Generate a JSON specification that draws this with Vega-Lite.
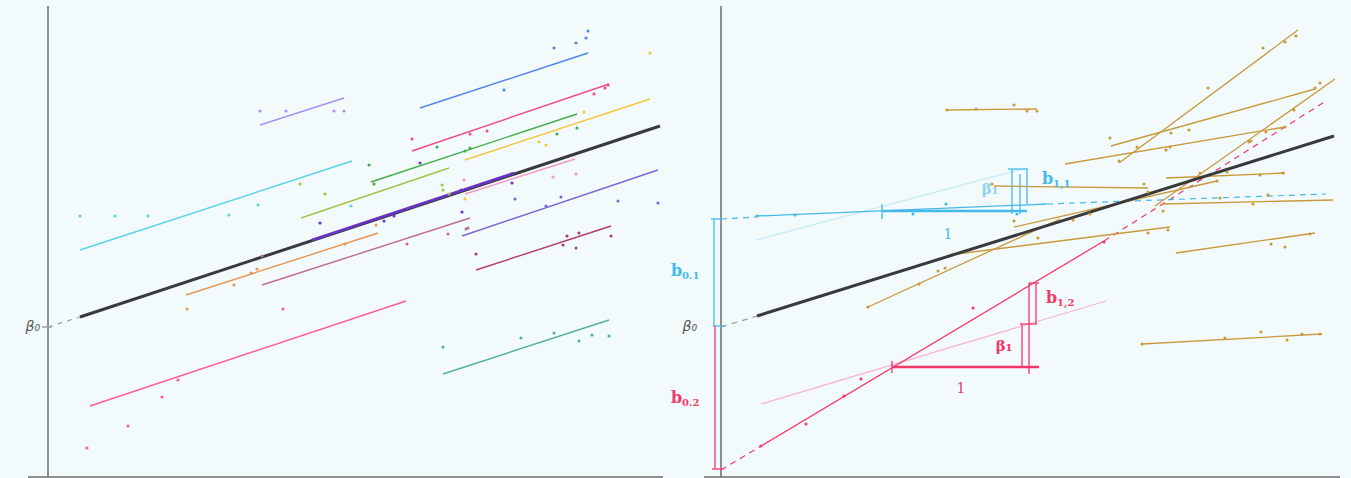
{
"$schema":"https://vega.github.io/schema/vega-lite/v6.json",
"background":"#f2fafc",
"padding":{"left":25,"top":5,"right":9,"bottom":2},
"spacing":39,
"bounds":"flush",
"config":{"view":{"stroke":null},"text":{"font":"DejaVu Sans"}},
"datasets":{
"Llines":[
{"g":"axis","k":"axis","x":0,"y":0,"x2":0,"y2":471},
{"g":"axis","k":"axis","x":-20,"y":0,"x2":615,"y2":0},
{"g":"dash","k":"thin","x":-6,"y":150,"x2":4,"y2":150},
{"g":"dash","k":"dash","x":0,"y":150,"x2":32,"y2":160},
{"g":"cyan","k":"thin","x":32,"y":227,"x2":304,"y2":316},
{"g":"blue","k":"thin","x":372,"y":369,"x2":540,"y2":424},
{"g":"lavender","k":"thin","x":212,"y":352,"x2":296,"y2":379},
{"g":"crimson","k":"thin","x":364,"y":326,"x2":561,"y2":393},
{"g":"green","k":"thin","x":323,"y":295,"x2":529,"y2":363},
{"g":"yellow","k":"thin","x":417,"y":317,"x2":602,"y2":378},
{"g":"olive","k":"thin","x":253,"y":259,"x2":401,"y2":309},
{"g":"slate","k":"thin","x":414,"y":241,"x2":610,"y2":307},
{"g":"lightpink","k":"thin","x":417,"y":283,"x2":527,"y2":318},
{"g":"mauve","k":"thin","x":214,"y":192,"x2":422,"y2":259},
{"g":"magenta","k":"thin","x":428,"y":207,"x2":563,"y2":251},
{"g":"orange","k":"thin","x":138,"y":182,"x2":330,"y2":244},
{"g":"pink","k":"thin","x":42,"y":71,"x2":358,"y2":176},
{"g":"teal","k":"thin","x":395,"y":103,"x2":561,"y2":157},
{"g":"pop","k":"thick","x":32,"y":160,"x2":612,"y2":351},
{"g":"indigo","k":"mid","x":264,"y":237,"x2":466,"y2":304}
],
"Lpts":[
{"g":"cyan","x":32,"y":261},{"g":"cyan","x":67,"y":261},{"g":"cyan","x":100,"y":261},{"g":"cyan","x":181,"y":262},{"g":"cyan","x":210,"y":272},{"g":"cyan","x":303,"y":271},
{"g":"blue","x":506,"y":429},{"g":"blue","x":528,"y":434},{"g":"blue","x":538,"y":439},{"g":"blue","x":540,"y":446},{"g":"blue","x":456,"y":387},
{"g":"lavender","x":212,"y":366},{"g":"lavender","x":238,"y":366},{"g":"lavender","x":286,"y":366},{"g":"lavender","x":296,"y":366},
{"g":"crimson","x":364,"y":338},{"g":"crimson","x":422,"y":343},{"g":"crimson","x":439,"y":346},{"g":"crimson","x":546,"y":383},{"g":"crimson","x":557,"y":389},{"g":"crimson","x":560,"y":392},
{"g":"green","x":321,"y":312},{"g":"green","x":326,"y":293},{"g":"green","x":389,"y":330},{"g":"green","x":417,"y":326},{"g":"green","x":422,"y":329},{"g":"green","x":509,"y":343},{"g":"green","x":529,"y":349},
{"g":"yellow","x":491,"y":335},{"g":"yellow","x":498,"y":332},{"g":"yellow","x":536,"y":365},{"g":"yellow","x":602,"y":424},{"g":"yellow","x":417,"y":278},
{"g":"olive","x":252,"y":293},{"g":"olive","x":277,"y":283},{"g":"olive","x":394,"y":292},{"g":"olive","x":395,"y":287},{"g":"olive","x":401,"y":283},
{"g":"indigo","x":272,"y":254},{"g":"indigo","x":336,"y":256},{"g":"indigo","x":346,"y":261},{"g":"indigo","x":414,"y":265},{"g":"indigo","x":413,"y":287},{"g":"indigo","x":464,"y":294},{"g":"indigo","x":372,"y":314},
{"g":"slate","x":467,"y":278},{"g":"slate","x":498,"y":271},{"g":"slate","x":513,"y":280},{"g":"slate","x":570,"y":276},{"g":"slate","x":610,"y":274},
{"g":"lightpink","x":416,"y":297},{"g":"lightpink","x":505,"y":300},{"g":"lightpink","x":528,"y":303},
{"g":"mauve","x":214,"y":221},{"g":"mauve","x":359,"y":233},{"g":"mauve","x":400,"y":243},{"g":"mauve","x":418,"y":248},{"g":"mauve","x":420,"y":249},
{"g":"magenta","x":428,"y":223},{"g":"magenta","x":519,"y":241},{"g":"magenta","x":531,"y":244},{"g":"magenta","x":563,"y":241},{"g":"magenta","x":515,"y":232},{"g":"magenta","x":528,"y":229},
{"g":"orange","x":139,"y":168},{"g":"orange","x":186,"y":192},{"g":"orange","x":203,"y":204},{"g":"orange","x":209,"y":208},{"g":"orange","x":297,"y":233},{"g":"orange","x":328,"y":252},
{"g":"pink","x":39,"y":29},{"g":"pink","x":80,"y":51},{"g":"pink","x":114,"y":80},{"g":"pink","x":130,"y":97},{"g":"pink","x":235,"y":168},
{"g":"teal","x":395,"y":130},{"g":"teal","x":473,"y":139},{"g":"teal","x":506,"y":144},{"g":"teal","x":531,"y":136},{"g":"teal","x":544,"y":142},{"g":"teal","x":561,"y":141}
],
"Ltext":[{"g":"lab","k":"beta0","x":-8,"y":150,"t":"β₀"}],
"Rlines":[
{"g":"axis","k":"axis","x":0,"y":0,"x2":0,"y2":471},
{"g":"axis","k":"axis","x":-17,"y":0,"x2":619,"y2":0},
{"g":"dash","k":"dash","x":0,"y":150,"x2":36,"y2":161},
{"g":"red","k":"dash","x":0,"y":7,"x2":40,"y2":31},
{"g":"red","k":"dash","x":383,"y":236,"x2":605,"y2":376},
{"g":"cyan2","k":"dash","x":0,"y":258,"x2":36,"y2":260},
{"g":"cyan2","k":"dash","x":326,"y":273,"x2":605,"y2":283},
{"g":"rfaint","k":"thin","x":40,"y":73,"x2":385,"y2":176},
{"g":"cfaint","k":"thin","x":35,"y":237,"x2":301,"y2":308},
{"g":"gold","k":"thin","x":226,"y":367,"x2":316,"y2":368},
{"g":"gold","k":"thin","x":398,"y":314,"x2":577,"y2":447},
{"g":"gold","k":"thin","x":390,"y":331,"x2":594,"y2":388},
{"g":"gold","k":"thin","x":344,"y":313,"x2":564,"y2":350},
{"g":"gold","k":"thin","x":434,"y":271,"x2":614,"y2":398},
{"g":"gold","k":"thin","x":445,"y":299,"x2":564,"y2":304},
{"g":"gold","k":"thin","x":442,"y":273,"x2":612,"y2":277},
{"g":"gold","k":"thin","x":273,"y":291,"x2":427,"y2":289},
{"g":"gold","k":"thin","x":293,"y":250,"x2":496,"y2":296},
{"g":"gold","k":"thin","x":228,"y":222,"x2":449,"y2":250},
{"g":"gold","k":"thin","x":147,"y":170,"x2":339,"y2":258},
{"g":"gold","k":"thin","x":455,"y":224,"x2":594,"y2":244},
{"g":"gold","k":"thin","x":421,"y":133,"x2":601,"y2":143},
{"g":"pop","k":"thick","x":36,"y":161,"x2":613,"y2":341},
{"g":"red","k":"thin","x":40,"y":31,"x2":383,"y2":236},
{"g":"cyan2","k":"thin","x":36,"y":261,"x2":326,"y2":273},
{"g":"cyan2","k":"bar","x":161,"y":266,"x2":306,"y2":266},
{"g":"cyan2","k":"thin","x":161,"y":258,"x2":161,"y2":273},
{"g":"cyan2","k":"thin","x":291,"y":263,"x2":291,"y2":308},
{"g":"cyan2","k":"thin","x":299,"y":263,"x2":299,"y2":303},
{"g":"cyan2","k":"thin","x":306,"y":273,"x2":306,"y2":308},
{"g":"cyan2","k":"thin","x":287,"y":308,"x2":307,"y2":308},
{"g":"red","k":"bar","x":171,"y":110,"x2":318,"y2":110},
{"g":"red","k":"thin","x":171,"y":104,"x2":171,"y2":116},
{"g":"red","k":"thin","x":301,"y":110,"x2":301,"y2":153},
{"g":"red","k":"thin","x":308,"y":103,"x2":308,"y2":194},
{"g":"red","k":"thin","x":315,"y":153,"x2":315,"y2":194},
{"g":"red","k":"thin","x":308,"y":194,"x2":318,"y2":194},
{"g":"red","k":"thin","x":299,"y":153,"x2":316,"y2":153},
{"g":"cyan2","k":"thin","x":-7,"y":151,"x2":-7,"y2":258},
{"g":"cyan2","k":"thin","x":-10,"y":258,"x2":1,"y2":258},
{"g":"cyan2","k":"thin","x":-8,"y":151,"x2":4,"y2":151},
{"g":"red","k":"thin","x":-6,"y":151,"x2":-6,"y2":8},
{"g":"red","k":"thin","x":-9,"y":8,"x2":2,"y2":8}
],
"Rpts":[
{"g":"gold","x":226,"y":367},{"g":"gold","x":255,"y":368},{"g":"gold","x":293,"y":372},{"g":"gold","x":306,"y":366},{"g":"gold","x":316,"y":366},
{"g":"gold","x":398,"y":316},{"g":"gold","x":416,"y":330},{"g":"gold","x":487,"y":389},{"g":"gold","x":542,"y":429},{"g":"gold","x":564,"y":435},{"g":"gold","x":575,"y":441},
{"g":"gold","x":389,"y":339},{"g":"gold","x":450,"y":344},{"g":"gold","x":468,"y":347},{"g":"gold","x":594,"y":389},{"g":"gold","x":599,"y":394},
{"g":"gold","x":445,"y":327},{"g":"gold","x":449,"y":330},{"g":"gold","x":530,"y":336},{"g":"gold","x":564,"y":350},{"g":"gold","x":573,"y":367},
{"g":"gold","x":442,"y":266},{"g":"gold","x":528,"y":335},{"g":"gold","x":545,"y":345},
{"g":"gold","x":479,"y":304},{"g":"gold","x":506,"y":305},{"g":"gold","x":539,"y":302},{"g":"gold","x":562,"y":304},
{"g":"gold","x":499,"y":279},{"g":"gold","x":532,"y":273},{"g":"gold","x":547,"y":282},
{"g":"gold","x":271,"y":293},{"g":"gold","x":423,"y":293},{"g":"gold","x":427,"y":285},
{"g":"gold","x":293,"y":256},{"g":"gold","x":352,"y":257},{"g":"gold","x":369,"y":263},{"g":"gold","x":496,"y":296},
{"g":"gold","x":427,"y":244},{"g":"gold","x":447,"y":247},
{"g":"gold","x":147,"y":170},{"g":"gold","x":198,"y":193},{"g":"gold","x":217,"y":206},{"g":"gold","x":224,"y":209},{"g":"gold","x":317,"y":239},
{"g":"gold","x":550,"y":233},{"g":"gold","x":564,"y":230},{"g":"gold","x":589,"y":243},
{"g":"gold","x":421,"y":133},{"g":"gold","x":504,"y":139},{"g":"gold","x":540,"y":145},{"g":"gold","x":566,"y":137},{"g":"gold","x":581,"y":143},{"g":"gold","x":599,"y":143},
{"g":"red","x":40,"y":31},{"g":"red","x":85,"y":53},{"g":"red","x":123,"y":81},{"g":"red","x":140,"y":98},{"g":"red","x":252,"y":169},{"g":"red","x":383,"y":235},
{"g":"cyan2","x":36,"y":261},{"g":"cyan2","x":74,"y":262},{"g":"cyan2","x":192,"y":263},{"g":"cyan2","x":225,"y":273},{"g":"cyan2","x":296,"y":263}
],
"Rtext":[
{"g":"lab","k":"beta0","x":-24,"y":150,"t":"β₀"},
{"g":"cyan2","k":"main","x":-50,"y":206,"t":"b"},
{"g":"cyan2","k":"sub","x":-39,"y":201,"t":"0.1"},
{"g":"red","k":"main","x":-50,"y":79,"t":"b"},
{"g":"red","k":"sub","x":-39,"y":74,"t":"0.2"},
{"g":"cyan2","k":"main","x":321,"y":298,"t":"b"},
{"g":"cyan2","k":"sub","x":332,"y":293,"t":"1,1"},
{"g":"cyanl","k":"greek","x":269,"y":288,"t":"β₁"},
{"g":"cyan2","k":"num","x":227,"y":242,"t":"1"},
{"g":"red","k":"main","x":325,"y":179,"t":"b"},
{"g":"red","k":"sub","x":336,"y":174,"t":"1,2"},
{"g":"red","k":"greek","x":283,"y":131,"t":"β₁"},
{"g":"red","k":"num","x":240,"y":88,"t":"1"}
]
},
"hconcat":[
{
"width":637,"height":471,
"encoding":{
"x":{"field":"x","type":"quantitative","scale":{"domain":[-20,617],"nice":false,"zero":false},"axis":null},
"y":{"field":"y","type":"quantitative","scale":{"domain":[0,471],"nice":false,"zero":false},"axis":null},
"color":{"field":"g","type":"nominal","legend":null,"scale":{
"domain":["axis","pop","dash","lab","cyan","blue","lavender","crimson","green","yellow","olive","indigo","slate","lightpink","mauve","magenta","orange","pink","teal","gold","red","rfaint","cyan2","cfaint","cyanl"],
"range":["#6e6e6e","#3a3a3a","#9a9a9a","#555555","#5ad2ea","#4f86e6","#a991ec","#f24b82","#43ad48","#f7c640","#a9bf4a","#6a34c9","#7b66d6","#f39ac2","#c36a93","#b43a74","#e99552","#ff5c91","#52b48f","#c99a3c","#f3386a","#f8b9cc","#45b9ea","#c4eaf6","#8fd3ee"]}}
},
"layer":[
{"data":{"name":"Llines"},"transform":[{"filter":"datum.k==='axis'"}],"mark":{"type":"rule","strokeWidth":1.5},"encoding":{"x2":{"field":"x2"},"y2":{"field":"y2"}}},
{"data":{"name":"Llines"},"transform":[{"filter":"datum.k==='dash'"}],"mark":{"type":"rule","strokeWidth":1.2,"strokeDash":[5,5]},"encoding":{"x2":{"field":"x2"},"y2":{"field":"y2"}}},
{"data":{"name":"Llines"},"transform":[{"filter":"datum.k==='thin'"}],"mark":{"type":"rule","strokeWidth":1.4},"encoding":{"x2":{"field":"x2"},"y2":{"field":"y2"}}},
{"data":{"name":"Llines"},"transform":[{"filter":"datum.k==='thick'"}],"mark":{"type":"rule","strokeWidth":3},"encoding":{"x2":{"field":"x2"},"y2":{"field":"y2"}}},
{"data":{"name":"Llines"},"transform":[{"filter":"datum.k==='mid'"}],"mark":{"type":"rule","strokeWidth":2.6},"encoding":{"x2":{"field":"x2"},"y2":{"field":"y2"}}},
{"data":{"name":"Lpts"},"mark":{"type":"circle","size":10,"opacity":1}},
{"data":{"name":"Ltext"},"mark":{"type":"text","fontSize":14,"fontStyle":"italic","align":"right","baseline":"middle"},"encoding":{"text":{"field":"t"}}}
]
},
{
"width":638,"height":471,
"encoding":{
"x":{"field":"x","type":"quantitative","scale":{"domain":[-17,621],"nice":false,"zero":false},"axis":null},
"y":{"field":"y","type":"quantitative","scale":{"domain":[0,471],"nice":false,"zero":false},"axis":null},
"color":{"field":"g","type":"nominal","legend":null,"scale":{
"domain":["axis","pop","dash","lab","cyan","blue","lavender","crimson","green","yellow","olive","indigo","slate","lightpink","mauve","magenta","orange","pink","teal","gold","red","rfaint","cyan2","cfaint","cyanl"],
"range":["#6e6e6e","#3a3a3a","#9a9a9a","#555555","#5ad2ea","#4f86e6","#a991ec","#f24b82","#43ad48","#f7c640","#a9bf4a","#6a34c9","#7b66d6","#f39ac2","#c36a93","#b43a74","#e99552","#ff5c91","#52b48f","#c99a3c","#f3386a","#f8b9cc","#45b9ea","#c4eaf6","#8fd3ee"]}}
},
"layer":[
{"data":{"name":"Rlines"},"transform":[{"filter":"datum.k==='axis'"}],"mark":{"type":"rule","strokeWidth":1.5},"encoding":{"x2":{"field":"x2"},"y2":{"field":"y2"}}},
{"data":{"name":"Rlines"},"transform":[{"filter":"datum.k==='dash'"}],"mark":{"type":"rule","strokeWidth":1.2,"strokeDash":[6,5]},"encoding":{"x2":{"field":"x2"},"y2":{"field":"y2"}}},
{"data":{"name":"Rlines"},"transform":[{"filter":"datum.k==='thin'"}],"mark":{"type":"rule","strokeWidth":1.3},"encoding":{"x2":{"field":"x2"},"y2":{"field":"y2"}}},
{"data":{"name":"Rlines"},"transform":[{"filter":"datum.k==='thick'"}],"mark":{"type":"rule","strokeWidth":3},"encoding":{"x2":{"field":"x2"},"y2":{"field":"y2"}}},
{"data":{"name":"Rlines"},"transform":[{"filter":"datum.k==='bar'"}],"mark":{"type":"rule","strokeWidth":2.6},"encoding":{"x2":{"field":"x2"},"y2":{"field":"y2"}}},
{"data":{"name":"Rpts"},"mark":{"type":"circle","size":10,"opacity":1}},
{"data":{"name":"Rtext"},"transform":[{"filter":"datum.k==='beta0'"}],"mark":{"type":"text","fontSize":14,"fontStyle":"italic","align":"right","baseline":"middle"},"encoding":{"text":{"field":"t"}}},
{"data":{"name":"Rtext"},"transform":[{"filter":"datum.k==='main'"}],"mark":{"type":"text","fontSize":16,"fontWeight":"bold","font":"DejaVu Serif","align":"left","baseline":"middle"},"encoding":{"text":{"field":"t"}}},
{"data":{"name":"Rtext"},"transform":[{"filter":"datum.k==='sub'"}],"mark":{"type":"text","fontSize":10,"fontWeight":"bold","font":"DejaVu Serif","align":"left","baseline":"middle"},"encoding":{"text":{"field":"t"}}},
{"data":{"name":"Rtext"},"transform":[{"filter":"datum.k==='greek'"}],"mark":{"type":"text","fontSize":15,"fontWeight":"bold","font":"DejaVu Serif","align":"center","baseline":"middle"},"encoding":{"text":{"field":"t"}}},
{"data":{"name":"Rtext"},"transform":[{"filter":"datum.k==='num'"}],"mark":{"type":"text","fontSize":14,"font":"DejaVu Serif","align":"center","baseline":"middle"},"encoding":{"text":{"field":"t"}}}
]
}
]
}
